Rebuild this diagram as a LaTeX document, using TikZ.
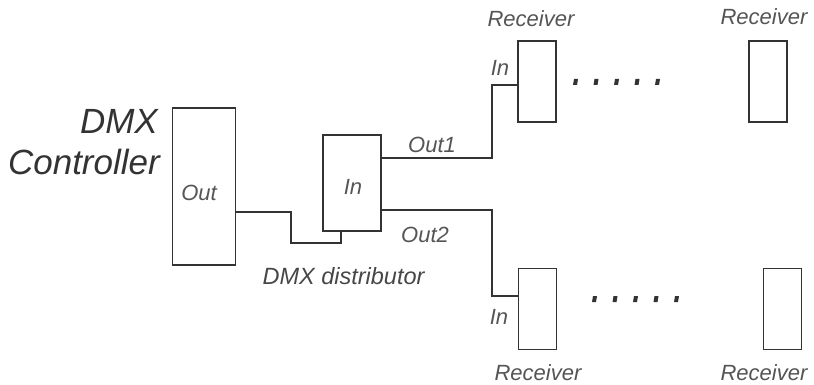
\documentclass[tikz,border=0pt]{standalone}
\usepackage{fontspec}
\setmainfont{Liberation Sans}
\definecolor{linec}{HTML}{333333}
\definecolor{labc}{HTML}{555555}
\begin{document}
\begin{tikzpicture}[x=1pt,y=-1pt,
  box/.style={draw=linec,line width=1.6pt,inner sep=0pt,rectangle},
  wire/.style={draw=linec,line width=1.6pt},
  lab/.style={text=labc,font=\fontsize{22}{24}\selectfont\itshape,inner sep=0pt},
  big/.style={text=linec,font=\fontsize{35}{37}\selectfont\itshape,inner sep=0pt}]
\useasboundingbox (0,0) rectangle (814,385);
% boxes
\node[box,minimum width=63pt,minimum height=157pt] (ctrl) at (204,186.5) {};
\node[box,minimum width=58pt,minimum height=96pt] (dist) at (352,183) {};
\node[box,minimum width=38pt,minimum height=81pt] (r1) at (537,81.5) {};
\node[box,minimum width=38pt,minimum height=81pt] (r2) at (768,81.5) {};
\node[box,minimum width=38pt,minimum height=81pt] (r3) at (537.5,309) {};
\node[box,minimum width=38pt,minimum height=81pt] (r4) at (782.5,309) {};
% labels
\node[big,anchor=east] (tdmx) at (158,121) {DMX};
\node[big,anchor=east] (tctrl) at (160,162) {Controller};
\node[lab] (tout) at (199,193) {Out};
\node[lab] (tin) at (353,187) {In};
\node[lab] (tout1) at (432,145) {Out1};
\node[lab] (tout2) at (425,235) {Out2};
\node[lab,text=linec!90,font=\fontsize{23.5}{25}\selectfont\itshape] (tdist) at (343.5,276) {DMX distributor};
\node[lab] (tin1) at (500,68) {In};
\node[lab] (tin3) at (499,317) {In};
\node[lab] (trec1) at (531,19) {Receiver};
\node[lab] (trec2) at (764,17) {Receiver};
\node[lab] (trec3) at (538,373) {Receiver};
\node[lab] (trec4) at (764,373) {Receiver};
% wires
\draw[wire] ([yshift=-25.5pt]ctrl.east) -| (291,243) -| ([xshift=-11pt]dist.south);
\draw[wire] ([yshift=25pt]dist.east) -- ++(110,0) |- ([yshift=-3.5pt]r1.west);
\draw[wire] ([yshift=-27pt]dist.east) -- ++(110,0) |- ([yshift=13pt]r3.west);
% dots
\foreach \x in {575,595.5,616,636.5,657}{
  \fill[linec] (\x-2,85) -- (\x+2,85) -- (\x+3,79) -- (\x-1,79) -- cycle;}
\foreach \x in {594,614.5,635,655.5,676}{
  \fill[linec] (\x-2,302) -- (\x+2,302) -- (\x+3,296) -- (\x-1,296) -- cycle;}
\end{tikzpicture}
\end{document}
